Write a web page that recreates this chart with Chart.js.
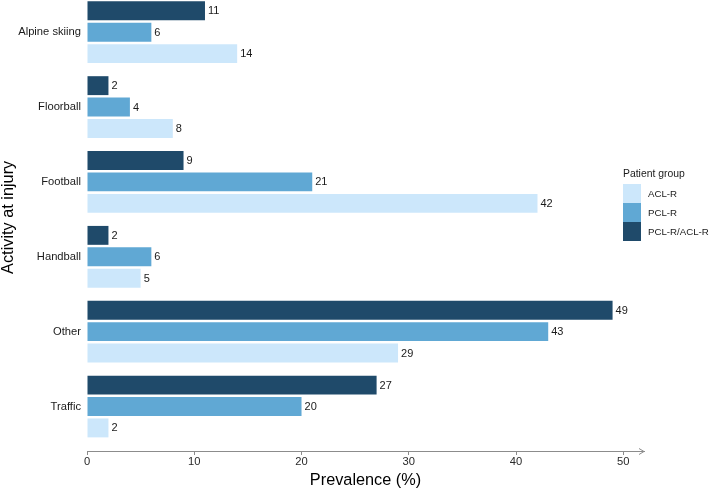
<!DOCTYPE html>
<html>
<head>
<meta charset="utf-8">
<script src="https://cdn.jsdelivr.net/npm/chart.js@4"></script>
<style>
html,body{margin:0;padding:0;background:#fff;}
#wrap{position:relative;width:709px;height:491px;overflow:hidden;}
#legend{position:absolute;left:623px;top:0;width:86px;height:491px;font-family:'Liberation Sans',Arial,sans-serif;color:#1a1a1a;}
#legend .title{position:absolute;left:0;top:167.7px;font-size:10.4px;line-height:12px;white-space:nowrap;}
#legend .box{position:absolute;left:0;width:17.8px;height:18.4px;}
#legend .lab{position:absolute;left:25px;height:18.4px;line-height:18.4px;font-size:9.7px;white-space:nowrap;}
</style>
</head>
<body>
<div id="wrap">
<canvas id="c" width="709" height="491"></canvas>
<div id="legend"></div>
</div>
<script>
const categories = ['Alpine skiing', 'Floorball', 'Football', 'Handball', 'Other', 'Traffic'];
const seriesNames = ['PCL-R/ACL-R', 'PCL-R', 'ACL-R'];
const pclAclValues = [11, 2, 9, 2, 49, 27];
const pclValues = [6, 4, 21, 6, 43, 20];
const aclValues = [14, 8, 42, 5, 29, 2];
const xTicks = [0, 10, 20, 30, 40, 50];
const seriesColors = ['#1f4a6a', '#60a8d4', '#cce7fb'];
const xTitle = 'Prevalence (%)';
const yTitle = 'Activity at injury';
const legendTitle = 'Patient group';

const FAMILY = "'Liberation Sans', Arial, Helvetica, sans-serif";
const seriesValues = [pclAclValues, pclValues, aclValues];

const datasets = seriesNames.map((name, si) => ({
  label: name,
  data: seriesValues[si].map((v, i) => ({ x: v, y: i })),
  backgroundColor: seriesColors[si],
  borderWidth: 0,
  barPercentage: 0.883,
  categoryPercentage: 0.858
}));

const valueLabels = {
  id: 'valueLabels',
  afterDatasetsDraw(chart) {
    const ctx = chart.ctx;
    ctx.save();
    ctx.font = '11px ' + FAMILY;
    ctx.fillStyle = '#1a1a1a';
    ctx.textAlign = 'left';
    ctx.textBaseline = 'middle';
    chart.data.datasets.forEach((ds, di) => {
      chart.getDatasetMeta(di).data.forEach((bar, i) => {
        ctx.fillText(String(ds.data[i].x), bar.x + 3, bar.y + 0.5);
      });
    });
    ctx.restore();
  }
};

const axisExtras = {
  id: 'axisExtras',
  afterDraw(chart) {
    const ctx = chart.ctx;
    const xs = chart.scales.x;
    const ys = chart.scales.y;
    const yLine = Math.round(xs.top) + 0.5;
    const xr = xs.right;
    ctx.save();
    ctx.strokeStyle = '#8c8c8c';
    ctx.lineWidth = 1;
    ctx.beginPath();
    ctx.moveTo(xr - 5, yLine - 3);
    ctx.lineTo(xr, yLine);
    ctx.lineTo(xr - 5, yLine + 3);
    ctx.stroke();
    ctx.translate(8.5, ys.getPixelForValue(2.5) - 2);
    ctx.rotate(-Math.PI / 2);
    ctx.font = '16.3px ' + FAMILY;
    ctx.fillStyle = '#000';
    ctx.textAlign = 'center';
    ctx.textBaseline = 'middle';
    ctx.fillText(yTitle, 0, 0);
    ctx.restore();
  }
};

new Chart(document.getElementById('c'), {
  type: 'bar',
  data: { datasets },
  options: {
    indexAxis: 'y',
    responsive: false,
    animation: false,
    layout: { padding: { left: 0, right: 65, top: 0, bottom: 0 } },
    plugins: { legend: { display: false }, tooltip: { enabled: false } },
    scales: {
      x: {
        type: 'linear',
        bounds: 'data',
        offset: false,
        min: 0,
        max: 51.93,
        afterBuildTicks: s => { s.ticks = xTicks.map(v => ({ value: v })); },
        grid: { display: true, offset: false, drawOnChartArea: false, drawTicks: true, tickLength: 4, color: '#8c8c8c', lineWidth: 1 },
        border: { display: true, color: '#8c8c8c', width: 1 },
        ticks: { padding: 0, color: '#2a2a2a', font: { size: 11.2, family: FAMILY }, maxRotation: 0, autoSkip: false },
        title: { display: true, text: xTitle, color: '#000', font: { size: 16.3, family: FAMILY }, padding: { top: 0, bottom: 1 } },
        afterFit: s => { s.height = 40; s.paddingLeft = 0; s.paddingRight = 0; }
      },
      y: {
        type: 'linear',
        bounds: 'data',
        offset: false,
        reverse: true,
        min: -0.4301,
        max: 5.5944,
        afterBuildTicks: s => { s.ticks = categories.map((c, i) => ({ value: i })); },
        ticks: { callback: v => categories[v], padding: 6, color: '#1a1a1a', font: { size: 11.2, family: FAMILY }, autoSkip: false },
        grid: { display: false, offset: false, drawTicks: false },
        border: { display: false },
        afterFit: s => { s.width = 87; s.paddingTop = 0; s.paddingBottom = 0; }
      }
    }
  },
  plugins: [valueLabels, axisExtras]
});

const legendEl = document.getElementById('legend');
const t = document.createElement('div');
t.className = 'title';
t.textContent = legendTitle;
legendEl.appendChild(t);
const order = [2, 1, 0];
order.forEach((si, k) => {
  const top = 184.3 + k * 19;
  const b = document.createElement('div');
  b.className = 'box';
  b.style.top = top + 'px';
  b.style.background = seriesColors[si];
  legendEl.appendChild(b);
  const l = document.createElement('div');
  l.className = 'lab';
  l.style.top = (top + 0.5) + 'px';
  l.textContent = seriesNames[si];
  legendEl.appendChild(l);
});
</script>
</body>
</html>
